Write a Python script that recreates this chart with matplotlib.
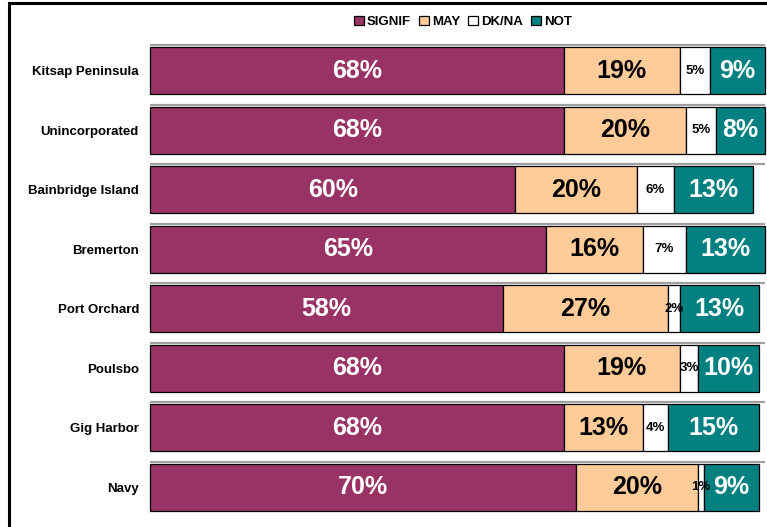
import matplotlib
matplotlib.use("Agg")
import matplotlib.pyplot as plt
from matplotlib.patches import Rectangle

plt.rcParams['font.family'] = ['Liberation Sans', 'DejaVu Sans']

categories = ["Kitsap Peninsula", "Unincorporated", "Bainbridge Island", "Bremerton",
              "Port Orchard", "Poulsbo", "Gig Harbor", "Navy"]
signif = [68, 68, 60, 65, 58, 68, 68, 70]
may = [19, 20, 20, 16, 27, 19, 13, 20]
dkna = [5, 5, 6, 7, 2, 3, 4, 1]
not_ = [9, 8, 13, 13, 13, 10, 15, 9]

series_names = ["SIGNIF", "MAY", "DK/NA", "NOT"]
series_values = [signif, may, dkna, not_]
colors = ["#993366", "#FFCC99", "#FFFFFF", "#008080"]
text_colors = ["white", "black", "black", "white"]
text_sizes = [18, 18, 9.5, 18]

fig = plt.figure(figsize=(7.67, 5.27), dpi=100)
ax = fig.add_axes([150 / 767, 1 - 517 / 527, 615 / 767, 476 / 527])

bar_h = 0.79
ypos = list(range(len(categories)))

# thin grey shadow line along the top of each bar
for y in ypos:
    ax.plot([0, 101], [y - bar_h / 2 - 0.035] * 2, color="#a0a0a0", lw=1.6,
            solid_capstyle="butt", zorder=1, clip_on=False)

left = [0] * len(categories)
for name, vals, col, tc, ts in zip(series_names, series_values, colors, text_colors, text_sizes):
    ax.barh(ypos, vals, left=left, height=bar_h, color=col, edgecolor="black",
            linewidth=0.9, label=name, zorder=2, clip_on=False)
    for y, l, v in zip(ypos, left, vals):
        ax.text(l + v / 2, y, f"{v}%", ha="center", va="center", color=tc,
                fontsize=ts, fontweight="bold", zorder=3, clip_on=False)
    left = [a + b for a, b in zip(left, vals)]

ax.set_xlim(0, 101)
ax.set_ylim(len(categories) - 0.5, -0.5)
ax.set_yticks(ypos)
ax.set_yticklabels(categories, fontsize=9.5, fontweight="bold")
ax.tick_params(axis="y", length=0, pad=8)
ax.set_xticks([])
for s in ax.spines.values():
    s.set_visible(False)

leg = fig.legend(loc="center", bbox_to_anchor=(463 / 767, 1 - 22 / 527), ncol=4,
                 frameon=False, fontsize=9.5, handlelength=0.75, handleheight=0.75,
                 handletextpad=0.25, columnspacing=0.6, borderpad=0)
for t in leg.get_texts():
    t.set_fontweight("bold")

# outer frame, open to the right and bottom edges
fig.patches.append(Rectangle((9 / 767, -0.05), 1.1, 1 - 3 / 527 + 0.05,
                             transform=fig.transFigure, fill=False,
                             edgecolor="black", linewidth=2.2))

fig.savefig("out.png", dpi=100)
